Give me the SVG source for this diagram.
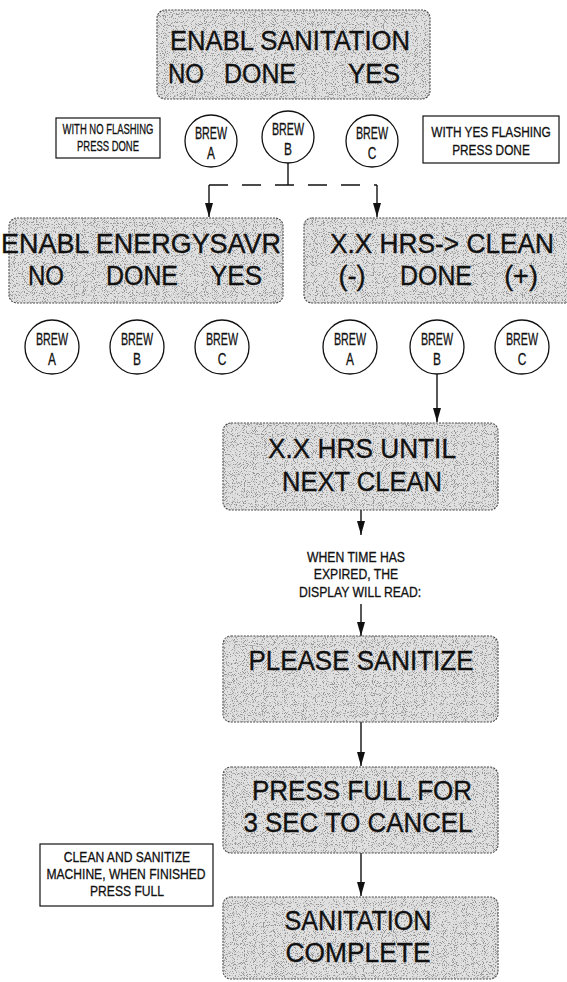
<svg xmlns="http://www.w3.org/2000/svg" width="567" height="982" viewBox="0 0 567 982">
<style>
.disp{fill:#e0e0e0;stroke:#444;stroke-width:1.1;stroke-dasharray:2 1.2}
.spk{fill:#000;filter:url(#speckle)}
.big{font-family:"Liberation Sans",Arial,sans-serif;font-size:27px;fill:#111;stroke:#111;stroke-width:0.35;text-anchor:middle}
.note{fill:#fff;stroke:#111;stroke-width:1.2}
.sm{font-family:"Liberation Sans",Arial,sans-serif;fill:#111;stroke:#111;stroke-width:0.3;text-anchor:middle}
.btn{fill:#fff;stroke:#111;stroke-width:1.3}
.bt{font-family:"Liberation Sans",Arial,sans-serif;font-size:17px;fill:#111;stroke:#111;stroke-width:0.3;text-anchor:middle}
.ln{fill:none;stroke:#111;stroke-width:1.4}
.dash{fill:none;stroke:#111;stroke-width:1.4;stroke-dasharray:19 14}
</style>
<defs>
<marker id="ah" viewBox="0 0 14 8" refX="14" refY="4" markerWidth="14" markerHeight="8" markerUnits="userSpaceOnUse" orient="auto">
<path d="M0,0 L14,4 L0,8 z" fill="#111"/>
</marker>
<filter id="speckle" x="0" y="0" width="1" height="1">
<feTurbulence type="fractalNoise" baseFrequency="1.1" numOctaves="1" seed="5" result="n"/>
<feColorMatrix in="n" type="matrix" values="0 0 0 0 0.3  0 0 0 0 0.3  0 0 0 0 0.3  0 0 0 -9 4.1" result="d"/>
<feComposite in="d" in2="SourceGraphic" operator="in"/>
</filter>
</defs>

<g id="connectors">
<path class="ln" d="M288,163 V185"/>
<path class="dash" d="M209,185 H377"/>
<path class="ln" d="M209,185 V217" marker-end="url(#ah)"/>
<path class="ln" d="M377,185 V217" marker-end="url(#ah)"/>
<path class="ln" d="M437,374 V422" marker-end="url(#ah)"/>
<path class="ln" d="M361,510 V535" marker-end="url(#ah)"/>
<path class="ln" d="M361,604 V636" marker-end="url(#ah)"/>
<path class="ln" d="M361,722 V766" marker-end="url(#ah)"/>
<path class="ln" d="M361,853 V896" marker-end="url(#ah)"/>
</g>

<g id="enabl-sanitation">
<rect class="disp" x="157" y="10" width="273" height="89" rx="8"/>
<rect class="spk" x="157" y="10" width="273" height="89" rx="8"/>
<text class="big" x="290" y="50" textLength="240" lengthAdjust="spacingAndGlyphs">ENABL SANITATION</text>
<text class="big" x="186" y="83" textLength="36" lengthAdjust="spacingAndGlyphs">NO</text>
<text class="big" x="260" y="83" textLength="72" lengthAdjust="spacingAndGlyphs">DONE</text>
<text class="big" x="374" y="83" textLength="52" lengthAdjust="spacingAndGlyphs">YES</text>
</g>

<g id="note-no">
<rect class="note" x="56" y="118" width="104" height="40"/>
<text class="sm" font-size="14" transform="translate(108,134) scale(0.676,1)">WITH NO FLASHING</text>
<text class="sm" font-size="14" transform="translate(108,151) scale(0.676,1)">PRESS DONE</text>
</g>

<g id="note-yes">
<rect class="note" x="423" y="116" width="136" height="47"/>
<text class="sm" font-size="15.5" transform="translate(491,137) scale(0.765,1)">WITH YES FLASHING</text>
<text class="sm" font-size="15.5" transform="translate(491,155) scale(0.765,1)">PRESS DONE</text>
</g>

<g id="brew-a-1">
<circle class="btn" cx="211" cy="141" r="26"/>
<text class="bt" transform="translate(211,139) scale(0.63,1)">BREW</text>
<text class="bt" transform="translate(211,159) scale(0.7,1)">A</text>
</g>
<g id="brew-b-1">
<circle class="btn" cx="288" cy="137" r="26"/>
<text class="bt" transform="translate(288,135) scale(0.63,1)">BREW</text>
<text class="bt" transform="translate(288,155) scale(0.7,1)">B</text>
</g>
<g id="brew-c-1">
<circle class="btn" cx="372" cy="141" r="26"/>
<text class="bt" transform="translate(372,139) scale(0.63,1)">BREW</text>
<text class="bt" transform="translate(372,159) scale(0.7,1)">C</text>
</g>

<g id="enabl-energysavr">
<rect class="disp" x="9" y="218" width="274" height="85" rx="8"/>
<rect class="spk" x="9" y="218" width="274" height="85" rx="8"/>
<text class="big" x="141" y="253" textLength="280" lengthAdjust="spacingAndGlyphs">ENABL ENERGYSAVR</text>
<text class="big" x="46" y="285" textLength="36" lengthAdjust="spacingAndGlyphs">NO</text>
<text class="big" x="142" y="285" textLength="72" lengthAdjust="spacingAndGlyphs">DONE</text>
<text class="big" x="236" y="285" textLength="52" lengthAdjust="spacingAndGlyphs">YES</text>
</g>

<g id="hrs-clean">
<rect class="disp" x="304" y="218" width="280" height="85" rx="8"/>
<rect class="spk" x="304" y="218" width="280" height="85" rx="8"/>
<text class="big" x="442" y="253" textLength="224" lengthAdjust="spacingAndGlyphs">X.X HRS-&gt; CLEAN</text>
<text class="big" x="352" y="285">(-)</text>
<text class="big" x="436" y="285" textLength="72" lengthAdjust="spacingAndGlyphs">DONE</text>
<text class="big" x="521" y="285">(+)</text>
</g>

<g id="brew-a-2"><circle class="btn" cx="52" cy="347" r="27"/><text class="bt" transform="translate(52,345) scale(0.63,1)">BREW</text><text class="bt" transform="translate(52,365) scale(0.7,1)">A</text></g>
<g id="brew-b-2"><circle class="btn" cx="137" cy="347" r="27"/><text class="bt" transform="translate(137,345) scale(0.63,1)">BREW</text><text class="bt" transform="translate(137,365) scale(0.7,1)">B</text></g>
<g id="brew-c-2"><circle class="btn" cx="222" cy="347" r="27"/><text class="bt" transform="translate(222,345) scale(0.63,1)">BREW</text><text class="bt" transform="translate(222,365) scale(0.7,1)">C</text></g>
<g id="brew-a-3"><circle class="btn" cx="350" cy="347" r="27"/><text class="bt" transform="translate(350,345) scale(0.63,1)">BREW</text><text class="bt" transform="translate(350,365) scale(0.7,1)">A</text></g>
<g id="brew-b-3"><circle class="btn" cx="437" cy="347" r="27"/><text class="bt" transform="translate(437,345) scale(0.63,1)">BREW</text><text class="bt" transform="translate(437,365) scale(0.7,1)">B</text></g>
<g id="brew-c-3"><circle class="btn" cx="522" cy="347" r="27"/><text class="bt" transform="translate(522,345) scale(0.63,1)">BREW</text><text class="bt" transform="translate(522,365) scale(0.7,1)">C</text></g>

<g id="hrs-until">
<rect class="disp" x="223" y="423" width="275" height="87" rx="8"/>
<rect class="spk" x="223" y="423" width="275" height="87" rx="8"/>
<text class="big" x="362" y="458" textLength="188" lengthAdjust="spacingAndGlyphs">X.X HRS UNTIL</text>
<text class="big" x="362" y="491" textLength="160" lengthAdjust="spacingAndGlyphs">NEXT CLEAN</text>
</g>

<g id="expired-label">
<text class="sm" font-size="14" transform="translate(356,562) scale(0.87,1)">WHEN TIME HAS</text>
<text class="sm" font-size="14" transform="translate(356,579) scale(0.87,1)">EXPIRED, THE</text>
<text class="sm" font-size="14" transform="translate(360,597) scale(0.87,1)">DISPLAY WILL READ:</text>
</g>

<g id="please-sanitize">
<rect class="disp" x="223" y="636" width="275" height="86" rx="8"/>
<rect class="spk" x="223" y="636" width="275" height="86" rx="8"/>
<text class="big" x="361" y="670" textLength="225" lengthAdjust="spacingAndGlyphs">PLEASE SANITIZE</text>
</g>

<g id="press-full">
<rect class="disp" x="223" y="767" width="275" height="86" rx="8"/>
<rect class="spk" x="223" y="767" width="275" height="86" rx="8"/>
<text class="big" x="362" y="800" textLength="220" lengthAdjust="spacingAndGlyphs">PRESS FULL FOR</text>
<text class="big" x="358" y="832" textLength="229" lengthAdjust="spacingAndGlyphs">3 SEC TO CANCEL</text>
</g>

<g id="note-clean">
<rect class="note" x="40" y="844" width="173" height="62"/>
<text class="sm" font-size="14.5" transform="translate(127,862) scale(0.834,1)">CLEAN AND SANITIZE</text>
<text class="sm" font-size="14.5" transform="translate(126,879) scale(0.834,1)">MACHINE, WHEN FINISHED</text>
<text class="sm" font-size="14.5" transform="translate(127,896) scale(0.834,1)">PRESS FULL</text>
</g>

<g id="sanitation-complete">
<rect class="disp" x="223" y="897" width="275" height="82" rx="8"/>
<rect class="spk" x="223" y="897" width="275" height="82" rx="8"/>
<text class="big" x="358" y="930" textLength="147" lengthAdjust="spacingAndGlyphs">SANITATION</text>
<text class="big" x="358" y="962" textLength="145" lengthAdjust="spacingAndGlyphs">COMPLETE</text>
</g>
</svg>
